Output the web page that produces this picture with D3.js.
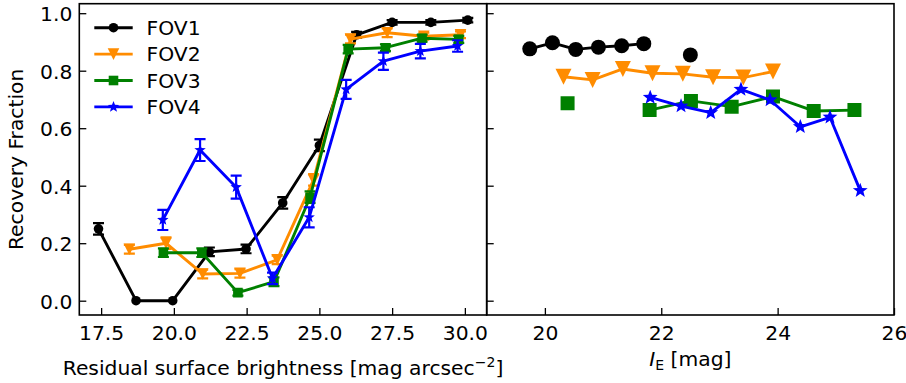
<!DOCTYPE html>
<html><head><meta charset="utf-8">
<script src="https://cdn.jsdelivr.net/npm/d3@7"></script>
<style>body{margin:0;background:#fff}svg{display:block}text{font-family:"DejaVu Sans",sans-serif;fill:#000}</style>
</head><body><svg id="c" width="906" height="383"></svg>
<script>
// ---- data ----
const seriesNames = ["FOV1","FOV2","FOV3","FOV4"];
const seriesColors = ["#000000","#ff8c00","#008000","#0000ff"];
const seriesMarkers = ["circle","tridown","square","star"];

// left panel: residual surface brightness
const fov1X = [17.41,18.70,19.96,21.22,22.48,23.74,25.00,26.28,27.50,28.83,30.10];
const fov1Y = [0.25,0.00,0.00,0.17,0.18,0.34,0.54,0.925,0.968,0.968,0.976];
const fov1E = [0.02,0,0,0.015,0.015,0.02,0.02,0.01,0.008,0.008,0.008];
const fov2X = [18.47,19.73,20.99,22.27,23.55,24.80,26.07,27.33,28.59,29.85];
const fov2Y = [0.179,0.200,0.093,0.095,0.142,0.42,0.91,0.932,0.92,0.925];
const fov2E = [0.015,0.02,0.015,0.015,0.015,0.02,0.015,0.015,0.012,0.012];
const fov3X = [19.64,20.96,22.20,23.44,24.68,25.99,27.27,28.53,29.79];
const fov3Y = [0.167,0.167,0.028,0.066,0.36,0.875,0.88,0.913,0.909];
const fov3E = [0.015,0.015,0.01,0.015,0.02,0.015,0.012,0.012,0.012];
const fov4X = [19.62,20.90,22.14,23.39,24.65,25.92,27.20,28.47,29.75];
const fov4Y = [0.281,0.524,0.395,0.078,0.29,0.735,0.833,0.868,0.886];
const fov4E = [0.035,0.038,0.04,0.02,0.035,0.033,0.03,0.025,0.02];

// right panel: I_E magnitude (null = gap)
const r1X = [19.74,20.13,20.53,20.92,21.32,21.70,22.10,22.50];
const r1Y = [0.876,0.897,0.874,0.882,0.887,0.894,null,0.855];
const r2X = [20.32,20.82,21.34,21.85,22.37,22.89,23.41,23.92];
const r2Y = [0.779,0.768,0.806,0.791,0.789,0.777,0.776,0.797];
const r3X = [20.39,21.10,21.80,22.51,23.21,23.92,24.62,25.32];
const r3Y = [0.687,null,0.663,0.695,0.675,0.710,0.660,0.663];
const r4X = [21.81,22.34,22.85,23.37,23.87,24.39,24.90,25.42];
const r4Y = [0.707,0.677,0.654,0.735,0.698,0.605,0.638,0.383];

const leftTicks = [17.5,20.0,22.5,25.0,27.5,30.0];
const rightTicks = [20,22,24,26];
const yTicks = [0.0,0.2,0.4,0.6,0.8,1.0];

// ---- layout ----
const svg = d3.select("#c");
const yTop = 3.7, yBot = 315;
const L = {x0:79.3, x1:486.7}, R = {x0:486.7, x1:894};
const xL = d3.scaleLinear([16.75,30.75],[L.x0,L.x1]);
const xR = d3.scaleLinear([19,26],[R.x0,R.x1]);
const y = d3.scaleLinear([0,1],[300.7,13.2]);
const FS = 20.3;
const LW = 2.9;

function markerPath(type, s){
  if(type==="circle") return d3.symbol(d3.symbolCircle, Math.PI*s*s)();
  if(type==="square") return `M${-s},${-s}H${s}V${s}H${-s}Z`;
  if(type==="tridown") return `M0,${s}L${-s},${-s}L${s},${-s}Z`;
  if(type==="star"){
    let p=[]; for(let i=0;i<10;i++){const r=i%2?s*0.42:s; const a=-Math.PI/2+i*Math.PI/5; p.push([r*Math.cos(a),r*Math.sin(a)]);}
    return "M"+p.map(d=>d.join(",")).join("L")+"Z";
  }
}
const leftSize = {circle:4.8,square:4.8,tridown:5.8,star:6};
const rightSize = {circle:7.5,square:7,tridown:8,star:7.8};

svg.append("clipPath").attr("id","cl").append("rect").attr("x",L.x0).attr("y",yTop).attr("width",L.x1-L.x0).attr("height",yBot-yTop);
svg.append("clipPath").attr("id","cr").append("rect").attr("x",R.x0).attr("y",yTop).attr("width",R.x1-R.x0).attr("height",yBot-yTop);

const gL = svg.append("g").attr("clip-path","url(#cl)");
const gR = svg.append("g").attr("clip-path","url(#cr)");

const leftData = [[fov1X,fov1Y,fov1E],[fov2X,fov2Y,fov2E],[fov3X,fov3Y,fov3E],[fov4X,fov4Y,fov4E]];
leftData.forEach(([xs,ys,es],i)=>{
  const pts = xs.map((x,j)=>({x, y:ys[j], e:es[j]}));
  const col = seriesColors[i];
  const g = gL.append("g");
  g.append("path").attr("d", d3.line().x(d=>xL(d.x)).y(d=>y(d.y))(pts))
    .attr("fill","none").attr("stroke",col).attr("stroke-width",LW).attr("stroke-linejoin","round");
  pts.filter(d=>d.e>0).forEach(d=>{
    const cx=xL(d.x), y1=y(d.y-d.e), y2=y(d.y+d.e);
    g.append("line").attr("x1",cx).attr("x2",cx).attr("y1",y1).attr("y2",y2).attr("stroke",col).attr("stroke-width",2.2);
    [y1,y2].forEach(yy=>g.append("line").attr("x1",cx-5.5).attr("x2",cx+5.5).attr("y1",yy).attr("y2",yy).attr("stroke",col).attr("stroke-width",2.2));
  });
  g.selectAll("path.m").data(pts).join("path").attr("class","m")
    .attr("transform",d=>`translate(${xL(d.x)},${y(d.y)})`)
    .attr("d",markerPath(seriesMarkers[i],leftSize[seriesMarkers[i]])).attr("fill",col);
});

const rightData = [[r1X,r1Y],[r2X,r2Y],[r3X,r3Y],[r4X,r4Y]];
rightData.forEach(([xs,ys],i)=>{
  const pts = xs.map((x,j)=>({x, y:ys[j]}));
  const col = seriesColors[i];
  const g = gR.append("g");
  g.append("path").attr("d", d3.line().defined(d=>d.y!==null).x(d=>xR(d.x)).y(d=>y(d.y))(pts))
    .attr("fill","none").attr("stroke",col).attr("stroke-width",LW).attr("stroke-linejoin","round");
  g.selectAll("path.m").data(pts.filter(d=>d.y!==null)).join("path").attr("class","m")
    .attr("transform",d=>`translate(${xR(d.x)},${y(d.y)})`)
    .attr("d",markerPath(seriesMarkers[i],rightSize[seriesMarkers[i]])).attr("fill",col);
});

// ---- axes ----
function styleAxis(g){ g.select(".domain").remove(); g.selectAll(".tick line").attr("stroke","#000").attr("stroke-width",1.3); g.selectAll("text").style("font-size",FS+"px").attr("font-family","DejaVu Sans"); }

const axLB = svg.append("g").attr("transform",`translate(0,${yBot})`)
  .call(d3.axisBottom(xL).tickValues(leftTicks).tickFormat(d3.format(".1f")).tickSize(-7)).call(styleAxis);
axLB.selectAll("text").attr("y",25).attr("dy",0);
const axRB = svg.append("g").attr("transform",`translate(0,${yBot})`)
  .call(d3.axisBottom(xR).tickValues(rightTicks).tickFormat(d3.format("d")).tickSize(-7)).call(styleAxis);
axRB.selectAll("text").attr("y",25).attr("dy",0);
const axLY = svg.append("g").attr("transform",`translate(${L.x0},0)`)
  .call(d3.axisLeft(y).tickValues(yTicks).tickFormat(d3.format(".1f")).tickSize(-7)).call(styleAxis);
axLY.selectAll("text").attr("x",-7).attr("dy","0.36em");
svg.append("g").attr("transform",`translate(${R.x0},0)`)
  .call(d3.axisLeft(y).tickValues(yTicks).tickFormat("").tickSize(-7)).call(styleAxis);

// frames
[L,R].forEach(p=>svg.append("rect").attr("x",p.x0).attr("y",yTop).attr("width",p.x1-p.x0).attr("height",yBot-yTop)
  .attr("fill","none").attr("stroke","#000").attr("stroke-width",1.6));

// axis labels
const xl = svg.append("text").attr("x",(L.x0+L.x1)/2).attr("y",375).attr("text-anchor","middle").style("font-size",FS+"px");
xl.append("tspan").text("Residual surface brightness [mag arcsec");
xl.append("tspan").attr("dy",-8).style("font-size","14px").text("\u22122");
xl.append("tspan").attr("dy",8).text("]");
const xr = svg.append("text").attr("x",(R.x0+R.x1)/2).attr("y",366).attr("text-anchor","middle").style("font-size",FS+"px");
xr.append("tspan").style("font-style","italic").text("I");
xr.append("tspan").attr("dy",4).style("font-size","14px").text("E");
xr.append("tspan").attr("dy",-4).text(" [mag]");
svg.append("text").attr("transform",`translate(23,${(yTop+yBot)/2}) rotate(-90)`).attr("text-anchor","middle").style("font-size",FS+"px").text("Recovery Fraction");

// legend
const lg = svg.append("g");
seriesNames.forEach((n,i)=>{
  const yy = 27.7 + i*26.4;
  lg.append("line").attr("x1",94.3).attr("x2",132.7).attr("y1",yy).attr("y2",yy).attr("stroke",seriesColors[i]).attr("stroke-width",LW);
  lg.append("path").attr("transform",`translate(113.5,${yy})`).attr("d",markerPath(seriesMarkers[i],leftSize[seriesMarkers[i]])).attr("fill",seriesColors[i]);
  lg.append("text").attr("x",146.5).attr("y",yy).attr("dy","0.36em").style("font-size",FS+"px").text(n);
});
</script></body></html>
